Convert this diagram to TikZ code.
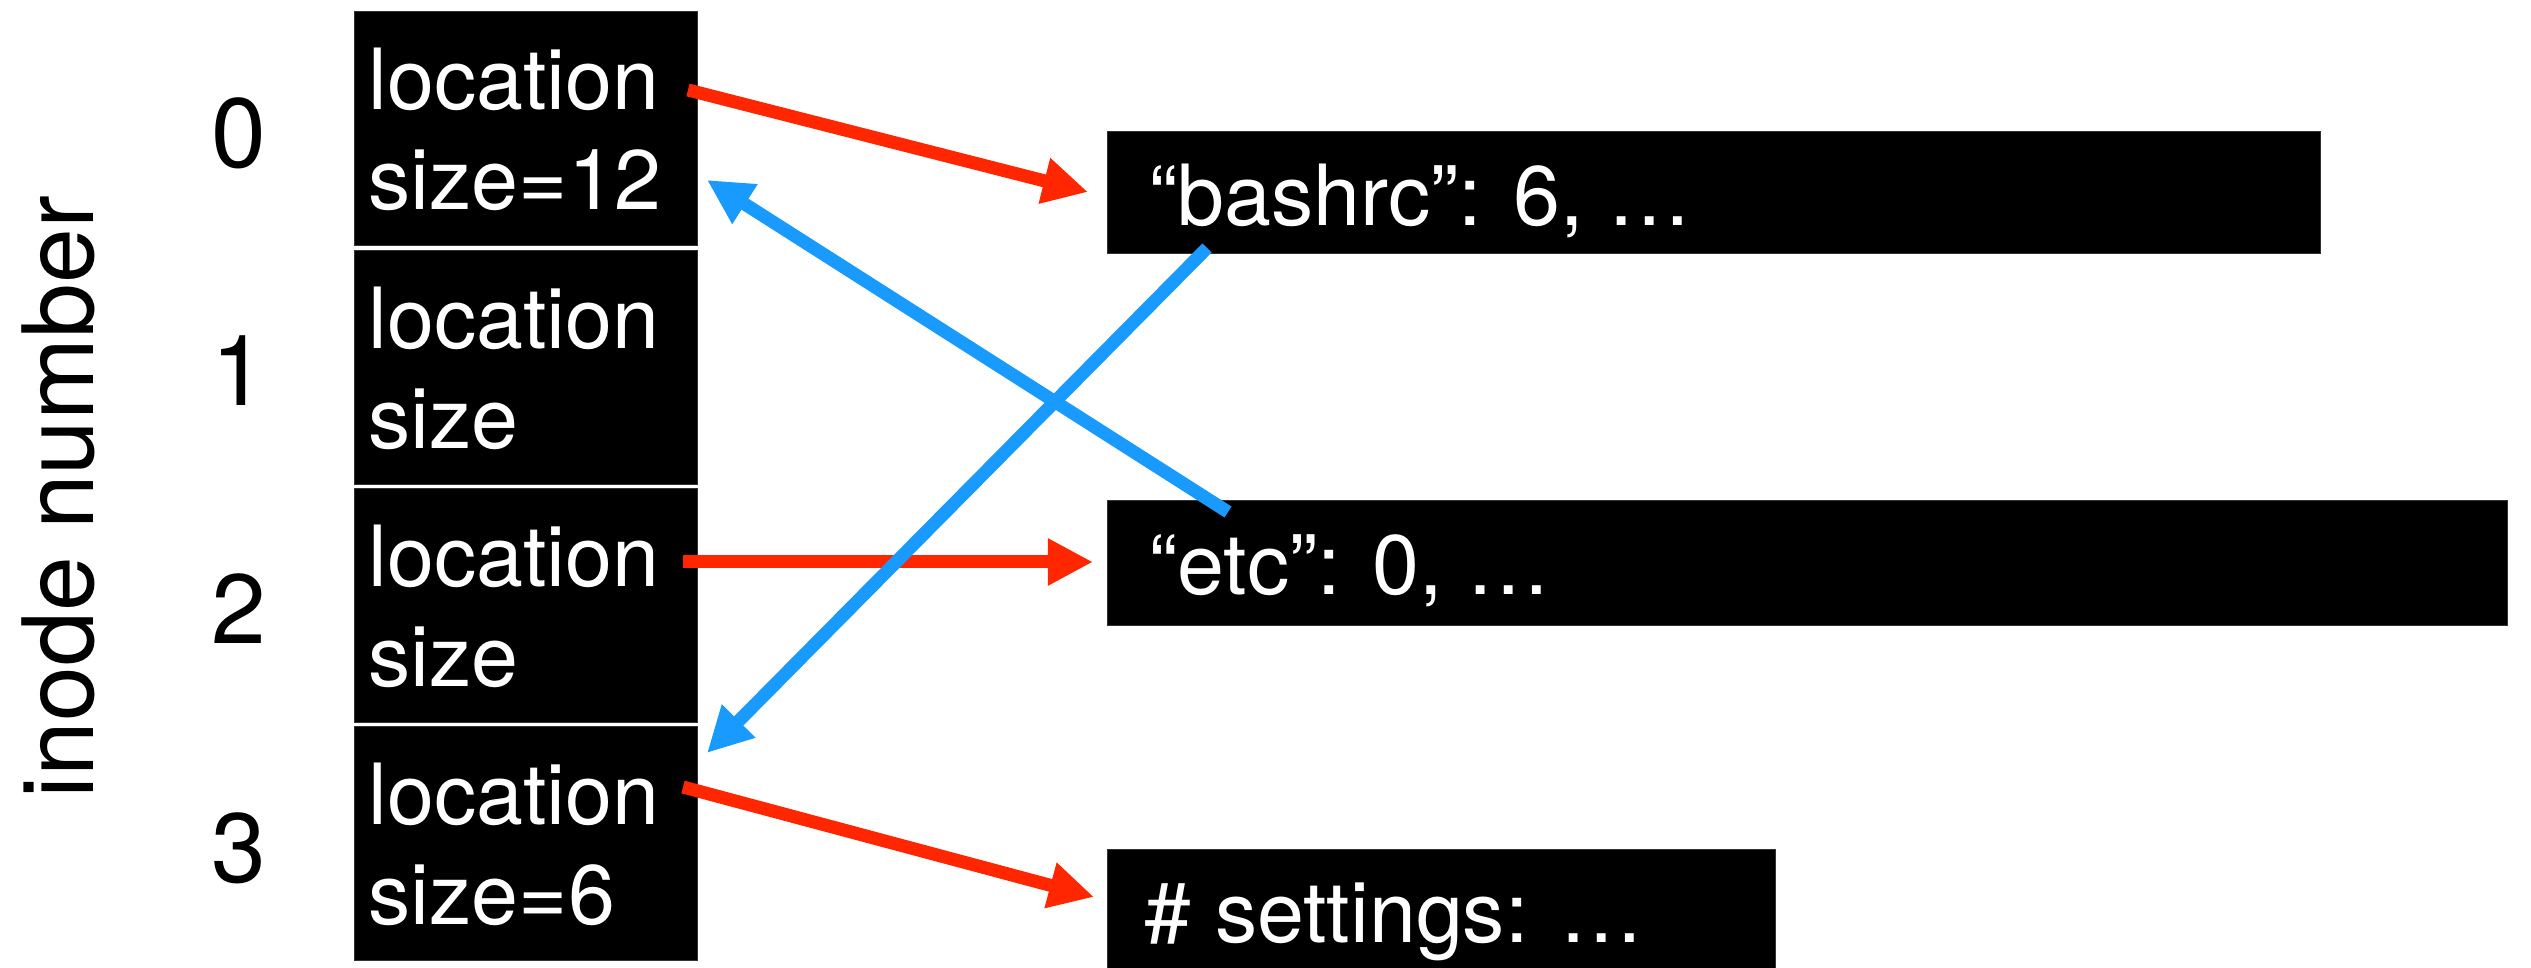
\documentclass[tikz,border=0pt]{standalone}
\usepackage{fontspec}
\setmainfont{TeX Gyre Heros}
\usetikzlibrary{arrows.meta,calc}
\definecolor{arrred}{RGB}{255,38,0}
\definecolor{arrblue}{RGB}{24,154,255}
\begin{document}
\begin{tikzpicture}[x=0.01cm,y=-0.01cm,
  inodebox/.style={fill=black,draw=black!80,line width=0.3pt,inner sep=0,anchor=north west,minimum width=3.43cm,minimum height=2.34cm},
  databox/.style={fill=black,draw=black!80,line width=0.3pt,inner sep=0,anchor=north west,minimum height=1.22cm},
  boxtext/.style={text=white,inner sep=0,anchor=base west,font=\fontsize{24}{28}\selectfont},
  numtext/.style={inner sep=0,font=\fontsize{28}{32}\selectfont},
  redarrow/.style={draw=arrred,line width=0.13cm,-{Triangle[length=0.45cm,width=0.44cm]}},
  bluearrow/.style={draw=arrblue,line width=0.13cm,-{Triangle[length=0.45cm,width=0.44cm]}}]
\useasboundingbox (0,0) rectangle (2531,968);

% inode boxes
\node[inodebox] (i0) at (354,11) {};
\node[inodebox] (i1) at (354,250) {};
\node[inodebox] (i2) at (354,488) {};
\node[inodebox] (i3) at (354,726) {};

\node[boxtext] (t0a) at ($(i0.north west)+(14,99)$) {location};
\node[boxtext] (t0b) at ($(i0.north west)+(14,199)$) {size=12};
\node[boxtext] (t1a) at ($(i1.north west)+(14,99)$) {location};
\node[boxtext] (t1b) at ($(i1.north west)+(14,199)$) {size};
\node[boxtext] (t2a) at ($(i2.north west)+(14,99)$) {location};
\node[boxtext] (t2b) at ($(i2.north west)+(14,199)$) {size};
\node[boxtext] (t3a) at ($(i3.north west)+(14,99)$) {location};
\node[boxtext] (t3b) at ($(i3.north west)+(14,199)$) {size=6};

% inode numbers
\node[numtext] (n0) at (239,133) {0};
\node[numtext] (n1) at (239,371) {1};
\node[numtext] (n2) at (239,609) {2};
\node[numtext] (n3) at (239,848) {3};
\node[numtext,rotate=90] (lab) at (58,497) {inode number};

% data boxes
\node[databox,minimum width=12.12cm] (d0) at (1107,131) {};
\node[databox,minimum width=13.99cm,minimum height=1.25cm] (d1) at (1107,500) {};
\node[databox,minimum width=6.68cm,minimum height=1.25cm] (d2) at (1107,849) {};

\node[boxtext] (dt0) at ($(d0.north west)+(42,95)$) {“bashrc”: 6, …};
\node[boxtext] (dt1) at ($(d1.north west)+(42,95)$) {“etc”: 0, …};
\node[boxtext] (dt2) at ($(d2.north west)+(37,94)$) {\# settings: …};

% connector end points
\coordinate (r0s) at (688,90);
\coordinate (r0e) at (1088,192);
\coordinate (r2s) at (683,562);
\coordinate (r2e) at (1093,562);
\coordinate (r3s) at (683,787);
\coordinate (r3e) at (1094,897);
\coordinate (b1s) at (1228,512);
\coordinate (b1e) at (707,180);
\coordinate (b0s) at (1207,248);
\coordinate (b0e) at (707,753);

\draw[redarrow] (r0s) -- (r0e);
\draw[redarrow] (r2s) -- (r2e);
\draw[redarrow] (r3s) -- (r3e);
\draw[bluearrow] (b1s) -- (b1e);
\draw[bluearrow] (b0s) -- (b0e);
\end{tikzpicture}
\end{document}
